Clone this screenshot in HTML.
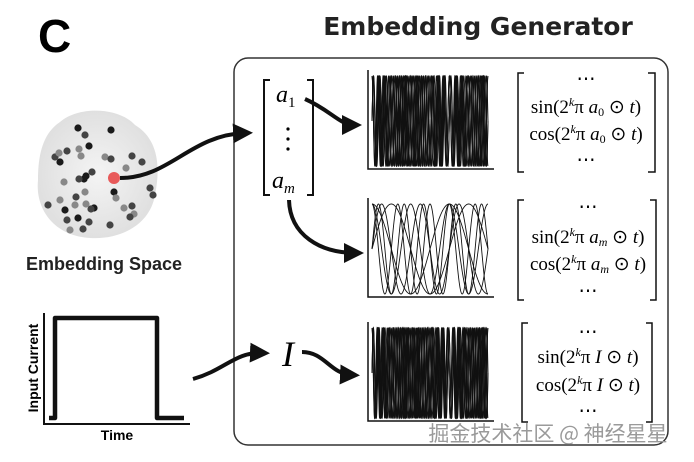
<!DOCTYPE html>
<html><head><meta charset="utf-8"><style>
body{margin:0;background:#fff;width:694px;height:462px;overflow:hidden}
svg{display:block}
.m{font-family:"Liberation Serif",serif}
</style></head><body>
<svg id="s" width="694" height="462" xmlns="http://www.w3.org/2000/svg">
<defs><marker id="ah" markerWidth="5" markerHeight="5" refX="3" refY="2.5" orient="auto" markerUnits="strokeWidth"><path d="M0,0 L5,2.5 L0,5 z" fill="#111"/></marker>
<radialGradient id="bg" cx="50%" cy="50%" r="50%"><stop offset="0" stop-color="#f4f4f4"/><stop offset="1" stop-color="#e0e0e0"/></radialGradient></defs>
<text x="38" y="52" font-family="Liberation Sans,sans-serif" font-weight="bold" font-size="46">C</text>
<text x="478" y="35" text-anchor="middle" font-family="DejaVu Sans,sans-serif" font-weight="bold" font-size="25" fill="#222">Embedding Generator</text>
<rect x="234" y="58" width="434" height="387" rx="14" fill="none" stroke="#333" stroke-width="1.5"/>
<path d="M60,122 C80,105 120,108 135,125 C160,140 160,170 155,195 C150,225 120,240 90,238 C55,236 35,210 38,180 C38,150 45,132 60,122 z" fill="url(#bg)"/>
<g id="dots"></g>
<circle cx="114" cy="178" r="6" fill="#e85a5a"/>
<path d="M120,178 C170,178 190,135 245,133" fill="none" stroke="#111" stroke-width="4" marker-end="url(#ah)"/>
<text x="104" y="270" text-anchor="middle" font-family="Liberation Sans,sans-serif" font-weight="bold" font-size="18" fill="#222">Embedding Space</text>
<path d="M270,80 L264,80 L264,195 L270,195 M307,80 L313,80 L313,195 L307,195" fill="none" stroke="#111" stroke-width="2"/>
<text x="276" y="102" class="m" style="font-size:24px;font-style:italic">a<tspan style="font-size:15px;font-style:normal" dy="5">1</tspan></text>
<circle cx="288" cy="129" r="1.6"/><circle cx="288" cy="139" r="1.6"/><circle cx="288" cy="149" r="1.6"/>
<text x="272" y="188" class="m" style="font-size:24px;font-style:italic">a<tspan style="font-size:15px" dy="5">m</tspan></text>
<path d="M305,99 C330,110 340,125 354,125" fill="none" stroke="#111" stroke-width="4" marker-end="url(#ah)"/>
<path d="M289,200 C290,235 320,253 356,253" fill="none" stroke="#111" stroke-width="4" marker-end="url(#ah)"/>
<g id="plots" fill="none" stroke="#111" stroke-width="0.9"></g>
<g class="m" text-anchor="middle" style="font-size:19px">
<text x="586" y="85">⋯</text><text x="586" y="113">sin(2<tspan style="font-size:12px;font-style:italic" dy="-7">k</tspan><tspan dy="7">π </tspan><tspan style="font-style:italic">a</tspan><tspan style="font-size:12px" dy="3">0</tspan><tspan dy="-3"> ⊙ </tspan><tspan style="font-style:italic">t</tspan>)</text>
<text x="586" y="140">cos(2<tspan style="font-size:12px;font-style:italic" dy="-7">k</tspan><tspan dy="7">π </tspan><tspan style="font-style:italic">a</tspan><tspan style="font-size:12px" dy="3">0</tspan><tspan dy="-3"> ⊙ </tspan><tspan style="font-style:italic">t</tspan>)</text><text x="586" y="166">⋯</text>
<text x="588" y="213">⋯</text><text x="588" y="243">sin(2<tspan style="font-size:12px;font-style:italic" dy="-7">k</tspan><tspan dy="7">π </tspan><tspan style="font-style:italic">a</tspan><tspan style="font-size:12px;font-style:italic" dy="3">m</tspan><tspan dy="-3"> ⊙ </tspan><tspan style="font-style:italic">t</tspan>)</text>
<text x="588" y="270">cos(2<tspan style="font-size:12px;font-style:italic" dy="-7">k</tspan><tspan dy="7">π </tspan><tspan style="font-style:italic">a</tspan><tspan style="font-size:12px;font-style:italic" dy="3">m</tspan><tspan dy="-3"> ⊙ </tspan><tspan style="font-style:italic">t</tspan>)</text><text x="588" y="297">⋯</text>
<text x="588" y="338">⋯</text><text x="588" y="363">sin(2<tspan style="font-size:12px;font-style:italic" dy="-7">k</tspan><tspan dy="7">π </tspan><tspan style="font-style:italic">I</tspan> ⊙ <tspan style="font-style:italic">t</tspan>)</text>
<text x="588" y="391">cos(2<tspan style="font-size:12px;font-style:italic" dy="-7">k</tspan><tspan dy="7">π </tspan><tspan style="font-style:italic">I</tspan> ⊙ <tspan style="font-style:italic">t</tspan>)</text><text x="588" y="417">⋯</text>
</g>
<path d="M524,73 L518,73 L518,172 L524,172 M648,73 L655,73 L655,172 L648,172
M524,200 L518,200 L518,300 L524,300 M650,200 L656,200 L656,300 L650,300
M528,323 L522,323 L522,422 L528,422 M646,323 L652,323 L652,422 L646,422" fill="none" stroke="#111" stroke-width="1.5"/>
<path d="M44,313 L44,424 L190,424" fill="none" stroke="#111" stroke-width="2"/>
<path d="M49,418 L55,418 L55,318 L157,318 L157,418 L184,418" fill="none" stroke="#111" stroke-width="4.5" stroke-linejoin="round"/>
<text transform="translate(38,368) rotate(-90)" text-anchor="middle" font-family="Liberation Sans,sans-serif" font-weight="bold" font-size="14">Input Current</text>
<text x="117" y="440" text-anchor="middle" font-family="Liberation Sans,sans-serif" font-weight="bold" font-size="14">Time</text>
<path d="M193,379 C225,370 235,352 262,353" fill="none" stroke="#111" stroke-width="4" marker-end="url(#ah)"/>
<text x="288" y="366" class="m" style="font-size:36px;font-style:italic" text-anchor="middle">I</text>
<path d="M302,352 C325,352 330,374 352,375" fill="none" stroke="#111" stroke-width="4" marker-end="url(#ah)"/>
<text x="548" y="441" text-anchor="middle" font-family="Noto Sans CJK SC,sans-serif" font-size="21" fill="#9a9a9a">掘金技术社区 @ 神经星星</text>
</svg>
<script>
var ns="http://www.w3.org/2000/svg",s=document.getElementById('s');
var d=document.getElementById('dots');
var pts=[[78,128,0],[85,135,1],[111,130,0],[89,146,0],[55,157,1],[59,153,2],[67,151,1],[60,162,0],[79,149,2],[81,156,2],[105,157,2],[111,159,1],[132,156,1],[142,162,1],[126,168,2],[92,172,1],[84,179,0],[86,176,0],[79,179,1],[64,182,2],[114,192,0],[116,198,2],[150,188,1],[153,195,1],[48,205,1],[60,200,2],[76,197,1],[85,192,2],[75,205,2],[65,210,0],[67,220,1],[78,218,0],[86,204,2],[94,208,0],[89,222,1],[91,209,1],[124,208,2],[132,206,1],[134,214,2],[130,217,1],[83,229,1],[110,225,1],[70,230,2]];
var col=['#1a1a1a','#444','#888'];
pts.forEach(function(p){var c=document.createElementNS(ns,'circle');c.setAttribute('cx',p[0]);c.setAttribute('cy',p[1]);c.setAttribute('r',3.6);c.setAttribute('fill',col[p[2]]);d.appendChild(c);});
var g=document.getElementById('plots');
function plot(y0,freqs){
 var x0=368,x1=494,top=y0+6,bot=y0+96;
 var ax=document.createElementNS(ns,'path');ax.setAttribute('d','M'+x0+','+(y0)+' L'+x0+','+(bot+3)+' L'+x1+','+(bot+3));ax.setAttribute('stroke-width','1.5');g.appendChild(ax);
 freqs.forEach(function(f){['sin','cos'].forEach(function(t){var dd='';var N=1200;for(var i=0;i<=N;i++){var x=x0+4+i*(x1-x0-10)/N;var v=Math[t](f*i/N*Math.PI*2);var y=(top+bot)/2-v*(bot-top)/2;dd+=(i?'L':'M')+x.toFixed(2)+','+y.toFixed(2);}var p=document.createElementNS(ns,'path');p.setAttribute('d',dd);g.appendChild(p);});});
}
plot(70,[18,19.5,21]);
plot(198,[1.5,3,4.5]);
plot(322,[20,21.5,23]);
</script>
</body></html>
